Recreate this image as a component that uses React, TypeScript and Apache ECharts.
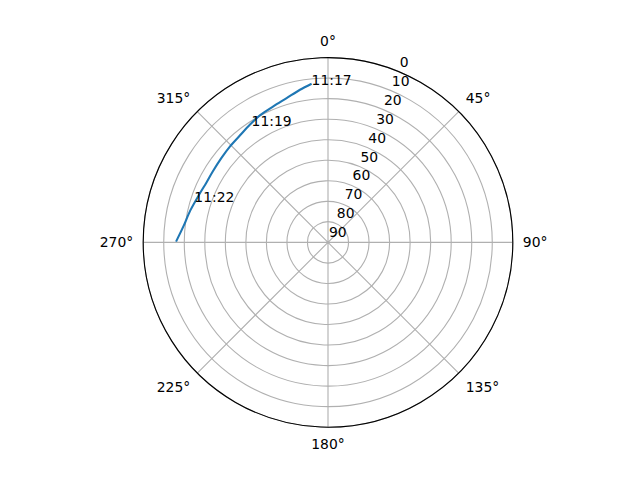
import React from "react";
import * as echarts from "echarts";

// ---------- data (azimuth in degrees, elevation in degrees) ----------
const trackAzimuth = [354.1, 349.6, 344.0, 338.1, 331.8, 326.5, 320.2, 314.3, 308.4, 301.6, 296.0, 291.0, 283.2, 276.2, 270.3];
const trackElevation = [12.3, 14.4, 16.9, 18.6, 19.8, 21.2, 22.6, 23.2, 23.8, 24.1, 24.0, 23.2, 21.2, 19.1, 16.0];

const timeLabels = ["11:17", "11:19", "11:22"];
const timeAzimuth = [354.1, 327.0, 287.4];
const timeElevation = [12.3, 21.7, 21.8];

const radialTicks = [0, 10, 20, 30, 40, 50, 60, 70, 80, 90];
const radialLabelAngle = 22.5;

const FONT = "DejaVu Sans";
const GRID = "#b0b0b0";

export default function App() {
  const ref = React.useRef<HTMLDivElement>(null);

  React.useEffect(() => {
    const el = ref.current;
    if (!el) return;
    const chart = echarts.init(el, undefined, { renderer: "svg" });

    const textLabel = {
      show: true,
      align: "left" as const,
      verticalAlign: "bottom" as const,
      color: "#000",
      textBorderWidth: 0,
      fontSize: 13.9,
      fontFamily: FONT,
    };

    const option: echarts.EChartsOption = {
      animation: false,
      backgroundColor: "#ffffff",
      textStyle: { fontFamily: FONT },
      polar: { center: [328, 242.4], radius: 184.8 },
      angleAxis: {
        type: "value",
        min: 0,
        max: 360,
        interval: 45,
        startAngle: 90,
        clockwise: true,
        axisLine: { show: true, lineStyle: { color: "#000", width: 1.1 } },
        axisTick: { show: false },
        axisLabel: {
          color: "#000",
          fontSize: 13.9,
          fontFamily: FONT,
          margin: 10,
          formatter: (v: number) => `${v}°`,
        },
        splitLine: { show: true, lineStyle: { color: GRID, width: 1.1 } },
      },
      radiusAxis: {
        type: "value",
        min: 0,
        max: 90,
        interval: 10,
        inverse: true,
        axisLine: { show: false },
        axisTick: { show: false },
        axisLabel: { show: false },
        splitLine: { show: true, lineStyle: { color: GRID, width: 1.1 } },
      },
      series: [
        {
          type: "line",
          coordinateSystem: "polar",
          data: trackElevation.map((e, i) => [e, trackAzimuth[i]]),
          showSymbol: false,
          symbol: "none",
          smooth: 0.3,
          lineStyle: { color: "#1f77b4", width: 2.1 },
          z: 5,
        },
        {
          // radial tick labels along 22.5°
          type: "scatter",
          coordinateSystem: "polar",
          symbolSize: 0,
          itemStyle: { opacity: 1 },
          data: radialTicks.map((r) => [r, radialLabelAngle]),
          label: { ...textLabel, position: [1, -3], formatter: (p: any) => String(p.value[0]) },
          z: 6,
        },
        {
          // time annotations
          type: "scatter",
          coordinateSystem: "polar",
          symbolSize: 0,
          itemStyle: { opacity: 1 },
          data: timeLabels.map((t, i) => ({ value: [timeElevation[i], timeAzimuth[i]], name: t })),
          label: { ...textLabel, position: [0, 3], formatter: (p: any) => p.name },
          z: 7,
        },
      ],
    };

    chart.setOption(option);
    return () => chart.dispose();
  }, []);

  return <div ref={ref} style={{ position: "absolute", left: 0, top: 0, width: 640, height: 480 }} />;
}
